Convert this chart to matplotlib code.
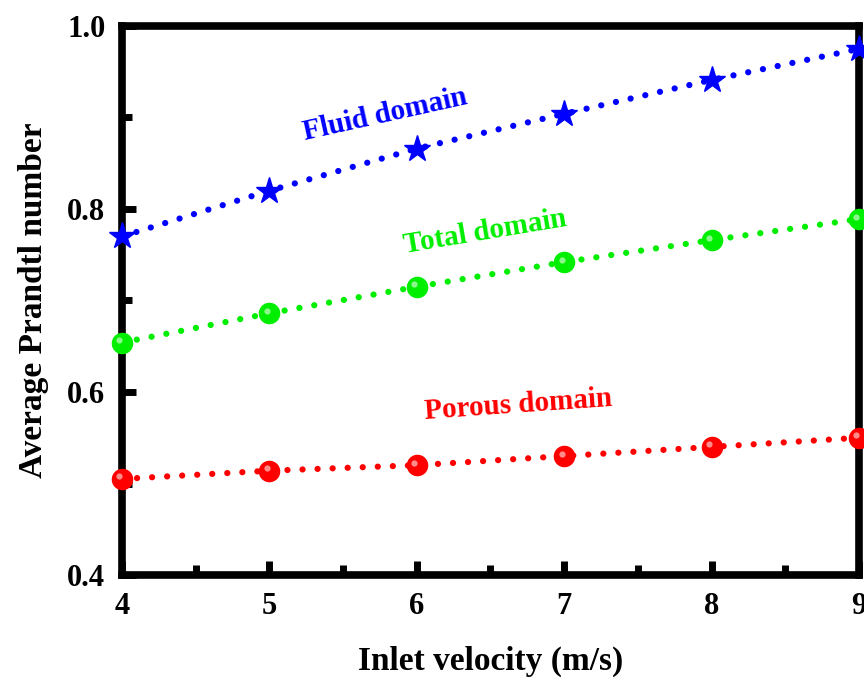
import matplotlib
matplotlib.use('Agg')
import matplotlib.pyplot as plt
import matplotlib.transforms as mtransforms
from matplotlib.ticker import MultipleLocator

plt.rcParams['font.family'] = ['Liberation Serif', 'DejaVu Serif']
plt.rcParams['font.weight'] = 'bold'

# data
velocity = [4, 5, 6, 7, 8, 9]
fluid = [0.770, 0.820, 0.866, 0.904, 0.941, 0.975]
total = [0.654, 0.686, 0.715, 0.742, 0.766, 0.789]
porous = [0.505, 0.514, 0.520, 0.530, 0.540, 0.550]

fig = plt.figure(figsize=(8.64, 6.8), dpi=100)
ax = fig.add_axes([0.1412, 0.1544, 0.853, 0.8074])

dots = (0, (0.01, 2.4))

# fluid domain - stars
ax.plot(velocity, fluid, color='blue', lw=4.5, ls=dots, dash_capstyle='round',
        marker='*', ms=20, mec='blue', mfc='blue', clip_on=False, zorder=3)

# spheres with a small highlight
hl = mtransforms.offset_copy(ax.transData, fig=fig, x=-2.5, y=2.5, units='dots')
for y, c in [(total, '#00ee00'), (porous, 'red')]:
    ax.plot(velocity, y, color=c, lw=4.5, ls=dots, dash_capstyle='round',
            marker='o', ms=14.5, mec=c, mfc=c, clip_on=False, zorder=3)
    ax.plot(velocity, y, ls='none', marker='o', ms=4.5, mfc='white', mec='none',
            alpha=0.55, transform=hl, clip_on=False, zorder=4)

ax.text(5.784, 0.903, 'Fluid domain', color='blue', fontsize=21, fontweight='bold',
        rotation=12.5, ha='center', va='center')
ax.text(6.463, 0.775, 'Total domain', color='#00ee00', fontsize=21, fontweight='bold',
        rotation=9.5, ha='center', va='center')
ax.text(6.687, 0.586, 'Porous domain', color='red', fontsize=21, fontweight='bold',
        rotation=4, ha='center', va='center')

ax.set_xlim(4, 9)
ax.set_ylim(0.4, 1.0)
ax.xaxis.set_major_locator(MultipleLocator(1))
ax.xaxis.set_minor_locator(MultipleLocator(0.5))
ax.yaxis.set_major_locator(MultipleLocator(0.2))
ax.yaxis.set_minor_locator(MultipleLocator(0.1))
ax.tick_params(which='both', direction='in', width=5, labelsize=22, pad=12)
ax.tick_params(which='major', length=10)
ax.tick_params(which='minor', length=7)
for lab in ax.get_xticklabels() + ax.get_yticklabels():
    lab.set_fontweight('bold')
for s in ax.spines.values():
    s.set_linewidth(5.5)

ax.set_xlabel('Inlet velocity (m/s)', fontsize=24, fontweight='bold', labelpad=18)
ax.set_ylabel('Average Prandtl number', fontsize=24, fontweight='bold', labelpad=13)

fig.savefig('out.png', dpi=100)
